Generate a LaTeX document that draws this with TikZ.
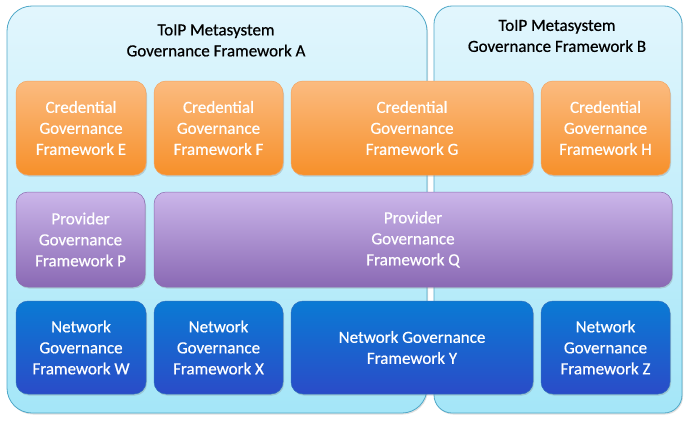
\documentclass[tikz,border=0pt]{standalone}
\usepackage{fontspec}
\setmainfont{Carlito}
\newfontfamily\gffont[FakeBold=0.6]{Carlito}
\usetikzlibrary{positioning,shadows}

\definecolor{metaline}{HTML}{4FA8C8}
\definecolor{metatop}{HTML}{E2F6FD}
\definecolor{metabot}{HTML}{A4E6F8}
\definecolor{credtop}{HTML}{FBBB80}
\definecolor{credbot}{HTML}{F7902A}
\definecolor{credline}{HTML}{F4A460}
\definecolor{provtop}{HTML}{CBB6EA}
\definecolor{provbot}{HTML}{8A69B4}
\definecolor{provline}{HTML}{8C6BB0}
\definecolor{nettop}{HTML}{0A7AD4}
\definecolor{netbot}{HTML}{2A4CC8}
\definecolor{netline}{HTML}{2F6FC0}

\tikzset{
  meta/.style={draw=metaline, line width=0.8pt, top color=metatop, bottom color=metabot,
    drop shadow={opacity=0.25, shadow xshift=1pt, shadow yshift=-1.5pt}},
  gf/.style={rounded corners=12pt, line width=0.5pt, text=white, align=center,
    font=\gffont\fontsize{17}{21}\selectfont, inner sep=0pt,
    drop shadow={opacity=0.3, shadow xshift=1pt, shadow yshift=-1.5pt}},
  cgf/.style={gf, draw=credline, top color=credtop, bottom color=credbot},
  pgf/.style={gf, draw=provline, top color=provtop, bottom color=provbot},
  ngf/.style={gf, draw=netline, top color=nettop, bottom color=netbot},
  title/.style={align=center, font=\gffont\fontsize{17}{21}\selectfont, text=black}
}

\begin{document}
\begin{tikzpicture}[x=1pt, y=-1pt]
\useasboundingbox (0,0) rectangle (687,420);

% metasystem frameworks
\path[meta, rounded corners=25pt] (7,6) rectangle (427,413);
\path[meta, rounded corners=18pt] (434,6) rectangle (682,413);
\node[title] (ta) at (216,40.5) {ToIP Metasystem\\Governance Framework A};
\node[title] (tb) at (557,36) {ToIP Metasystem\\Governance Framework B};

\def\yc{128}
\def\yp{239.5}
\def\yn{347.5}

% credential row
\node[cgf, minimum width=130, minimum height=94] (e) at (81,\yc) {Credential\\Governance\\Framework E};
\node[cgf, minimum width=129, minimum height=94] (f) at (218.5,\yc) {Credential\\Governance\\Framework F};
\node[cgf, minimum width=242, minimum height=94] (g) at (412,\yc) {Credential\\Governance\\Framework G};
\node[cgf, minimum width=129, minimum height=94] (h) at (605.5,\yc) {Credential\\Governance\\Framework H};

% provider row
\node[pgf, minimum width=129, minimum height=95] (p) at (80.5,\yp) {Provider\\Governance\\Framework P};
\node[pgf, minimum width=518, minimum height=95] (q) at (413,\yp) {Provider\\Governance\\Framework Q};

% network row
\node[ngf, minimum width=130, minimum height=93] (w) at (81,\yn) {Network\\Governance\\Framework W};
\node[ngf, minimum width=129, minimum height=93] (x) at (218.5,\yn) {Network\\Governance\\Framework X};
\node[ngf, minimum width=242, minimum height=93] (y) at (412,\yn) {Network Governance\\Framework Y};
\node[ngf, minimum width=129, minimum height=93] (z) at (605.5,\yn) {Network\\Governance\\Framework Z};
\end{tikzpicture}
\end{document}
